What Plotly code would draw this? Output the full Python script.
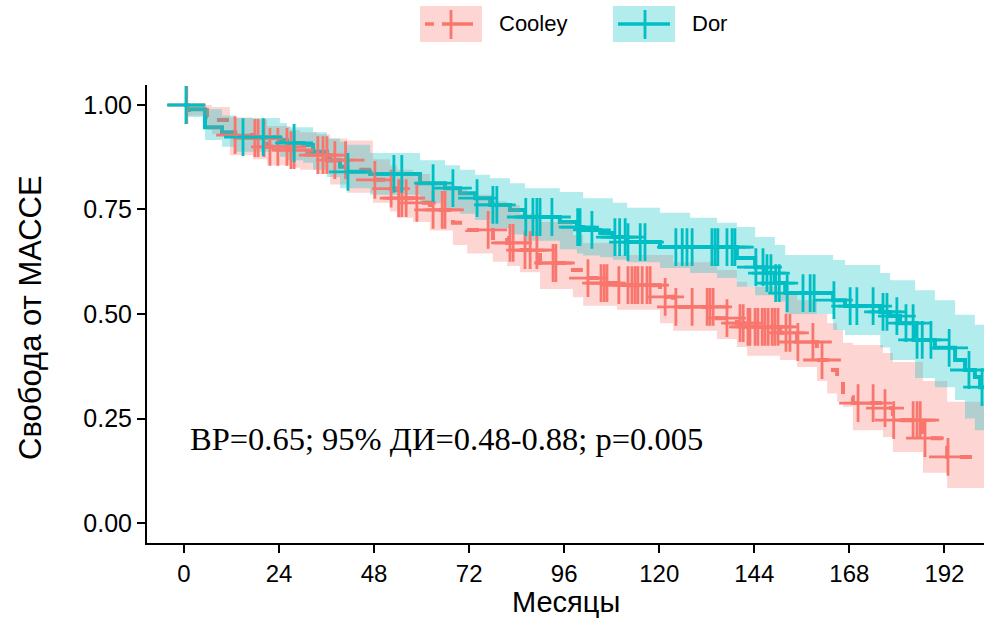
import numpy as np
import plotly.graph_objects as go

# ---------------- data ----------------
group_names = ["Cooley", "Dor"]
line_colors = {"Cooley": "#F8766D", "Dor": "#00BFC4"}
band_colors = {"Cooley": "rgba(248,118,109,0.3)", "Dor": "rgba(0,191,196,0.3)"}

x_tick_vals = [0, 24, 48, 72, 96, 120, 144, 168, 192]
y_tick_vals = [0.0, 0.25, 0.5, 0.75, 1.0]
y_tick_text = ["0.00", "0.25", "0.50", "0.75", "1.00"]
x_title = "Месяцы"
y_title = "Свобода от МАССЕ"

followup_end = 202.0

cooley_time = [0, 0.8, 5.8, 7.1, 11.6, 17.4, 21.0, 26.8, 29.3, 33.6, 36.9, 41.2, 47.7, 52.0,
               53.8, 57.8, 62.1, 67.9, 71.5, 78.0, 81.6, 84.8, 89.9, 98.2, 100.8, 105.1, 109.3,
               120.2, 123.5, 134.6, 139.6, 142.2, 150.5, 154.8, 159.8, 162.4, 164.9, 166.4,
               168.9, 176.5, 179.0, 186.6, 192.7]
cooley_surv = [1.0, 0.988, 0.971, 0.964, 0.928, 0.921, 0.900, 0.892, 0.888, 0.880, 0.868, 0.845,
               0.821, 0.800, 0.777, 0.766, 0.749, 0.718, 0.701, 0.682, 0.670, 0.653, 0.622, 0.605,
               0.586, 0.574, 0.569, 0.541, 0.517, 0.490, 0.478, 0.469, 0.455, 0.433, 0.390, 0.366,
               0.345, 0.301, 0.287, 0.275, 0.246, 0.203, 0.158]
cooley_lower = [1.0, 0.975, 0.94, 0.93, 0.88, 0.87, 0.855, 0.85, 0.845, 0.835, 0.81, 0.79, 0.766,
                0.745, 0.73, 0.72, 0.70, 0.665, 0.645, 0.625, 0.615, 0.60, 0.56, 0.54, 0.52, 0.52,
                0.51, 0.478, 0.46, 0.44, 0.421, 0.40, 0.39, 0.373, 0.34, 0.31, 0.29, 0.278, 0.222,
                0.206, 0.17, 0.12, 0.084]
cooley_upper = [1.0, 1.0, 1.0, 0.995, 0.97, 0.965, 0.95, 0.94, 0.935, 0.93, 0.92, 0.915, 0.87,
                0.855, 0.845, 0.835, 0.81, 0.80, 0.785, 0.77, 0.76, 0.74, 0.72, 0.689, 0.67, 0.67,
                0.641, 0.641, 0.624, 0.605, 0.577, 0.565, 0.553, 0.533, 0.50, 0.478, 0.462, 0.431,
                0.426, 0.407, 0.385, 0.34, 0.29]
cooley_censor = [0.7, 12.9, 17.9, 18.7, 20.2, 21.7, 23.7, 26.0, 27.0, 27.8, 33.8, 35.1, 36.1, 38.1,
                 40.8, 48.2, 52.3, 54.2, 55.0, 56.1, 58.8, 62.9, 65.2, 65.9, 76.8, 82.3, 83.1, 86.1,
                 87.4, 89.1, 93.2, 93.9, 102.0, 105.3, 106.1, 106.8, 109.8, 112.1, 113.1, 113.9,
                 114.6, 115.7, 116.9, 117.7, 121.5, 124.2, 128.3, 132.1, 132.8, 133.6, 137.1, 140.4,
                 141.2, 142.4, 142.9, 144.2, 144.9, 146.0, 146.7, 147.5, 148.5, 149.2, 150.0, 152.0,
                 153.0, 155.0, 158.8, 161.1, 170.2, 174.0, 177.0, 179.2, 184.1, 185.1, 185.9, 187.1,
                 192.9]

dor_time = [0, 0.8, 5.3, 9.6, 12.9, 24.2, 26.0, 30.1, 32.6, 36.1, 39.4, 41.2, 47.0, 59.6, 65.9,
            69.7, 73.5, 77.3, 82.3, 86.1, 94.9, 99.2, 100.8, 105.1, 108.3, 111.9, 120.2, 127.8,
            134.6, 139.6, 144.2, 146.7, 149.2, 151.8, 163.9, 166.9, 175.8, 178.3, 180.8, 184.6,
            189.6, 194.7, 197.2, 199.7, 201.0]
dor_surv = [1.0, 0.99, 0.947, 0.935, 0.923, 0.916, 0.909, 0.904, 0.888, 0.868, 0.852, 0.840, 0.835,
            0.813, 0.801, 0.789, 0.777, 0.761, 0.749, 0.732, 0.720, 0.708, 0.701, 0.694, 0.684,
            0.672, 0.660, 0.660, 0.660, 0.634, 0.612, 0.598, 0.574, 0.550, 0.533, 0.519, 0.505,
            0.495, 0.478, 0.438, 0.419, 0.390, 0.366, 0.349, 0.325]
dor_lower = [1.0, 0.971, 0.916, 0.90, 0.888, 0.876, 0.868, 0.862, 0.845, 0.828, 0.801, 0.801, 0.785,
             0.765, 0.75, 0.74, 0.725, 0.705, 0.69, 0.675, 0.655, 0.645, 0.64, 0.636, 0.63, 0.624,
             0.61, 0.598, 0.586, 0.565, 0.545, 0.545, 0.53, 0.50, 0.462, 0.45, 0.42, 0.39, 0.39,
             0.347, 0.325, 0.294, 0.25, 0.222, 0.222]
dor_upper = [1.0, 1.0, 0.99, 0.975, 0.969, 0.957, 0.947, 0.947, 0.935, 0.92, 0.912, 0.905, 0.885,
             0.868, 0.856, 0.845, 0.833, 0.825, 0.813, 0.801, 0.792, 0.792, 0.777, 0.777, 0.766,
             0.754, 0.742, 0.73, 0.718, 0.708, 0.684, 0.684, 0.665, 0.641, 0.629, 0.617, 0.598,
             0.581, 0.581, 0.557, 0.533, 0.498, 0.498, 0.474, 0.474]
dor_censor = [0.5, 14.9, 20.0, 27.8, 41.4, 53.0, 55.0, 62.9, 67.9, 74.0, 78.0, 79.0, 86.3, 88.1,
              89.1, 89.9, 92.9, 99.4, 100.0, 103.0, 108.8, 110.0, 111.4, 112.1, 115.2, 116.4,
              124.2, 125.8, 127.0, 128.3, 133.3, 134.1, 134.8, 137.1, 138.4, 139.1, 144.4, 146.2,
              147.2, 148.2, 149.4, 150.3, 152.3, 156.3, 158.1, 159.1, 164.1, 168.2, 169.9, 174.0,
              176.5, 177.5, 180.0, 182.3, 184.1, 185.1, 186.4, 188.6, 193.2, 198.2, 201.5]

annotation_text = "ВР=0.65; 95% ДИ=0.48-0.88; p=0.005"

series = {
    "Cooley": dict(t=cooley_time, s=cooley_surv, lo=cooley_lower, hi=cooley_upper,
                   c=cooley_censor, dash="dash"),
    "Dor": dict(t=dor_time, s=dor_surv, lo=dor_lower, hi=dor_upper, c=dor_censor, dash="solid"),
}


# ---------------- helpers ----------------
def step_line(t, s, end):
    return list(t) + [end], list(s) + [s[-1]]


def band_polygon(t, lo, hi, end):
    tt = list(t) + [end]
    xs, ys = [], []
    for i in range(len(t)):
        xs += [tt[i], tt[i + 1]]
        ys += [hi[i], hi[i]]
    for i in reversed(range(len(t))):
        xs += [tt[i + 1], tt[i]]
        ys += [lo[i], lo[i]]
    return xs, ys


def surv_at(t, s, q):
    idx = np.searchsorted(np.array(t), np.array(q), side="right") - 1
    return np.array(s)[idx]


fig = go.Figure()

# lines first
for g in group_names:
    d = series[g]
    x, y = step_line(d["t"], d["s"], followup_end)
    fig.add_trace(go.Scatter(x=x, y=y, mode="lines", line_shape="hv",
                             line=dict(color=line_colors[g], width=4, dash=d["dash"]),
                             hoverinfo="skip", showlegend=False))
# confidence bands over the lines
for g in group_names:
    d = series[g]
    bx, by = band_polygon(d["t"], d["lo"], d["hi"], followup_end)
    fig.add_trace(go.Scatter(x=bx, y=by, mode="lines", fill="toself",
                             fillcolor=band_colors[g], line=dict(width=0),
                             hoverinfo="skip", showlegend=False))
# censor marks
for g in group_names:
    d = series[g]
    cy = surv_at(d["t"], d["s"], d["c"])
    fig.add_trace(go.Scatter(x=d["c"], y=cy, mode="markers",
                             marker=dict(symbol="cross-thin-open", size=27,
                                         color=line_colors[g],
                                         line=dict(color=line_colors[g], width=2.8)),
                             hoverinfo="skip", showlegend=False))

fig.add_annotation(x=1, y=0.2, xref="x", yref="y", text=annotation_text, showarrow=False,
                   xanchor="left", yanchor="middle",
                   font=dict(family="Liberation Serif, Times New Roman, serif", size=32.5,
                             color="black"))

# ---------------- manual legend / titles (pixel placement) ----------------
PL, PR, PT, PB = 147, 984, 85, 543


def fx(p):
    return (p - PL) / (PR - PL)


def fy(p):
    return (PB - p) / (PB - PT)


legend_items = [
    dict(name="Cooley", rect=(420, 482), segs=[(425, 434), (442, 473)], tick=451, text=497),
    dict(name="Dor", rect=(613, 675), segs=[(618, 670)], tick=645, text=690),
]
for it in legend_items:
    g = it["name"]
    fig.add_shape(type="rect", xref="paper", yref="paper", x0=fx(it["rect"][0]),
                  x1=fx(it["rect"][1]), y0=fy(42), y1=fy(6), fillcolor=band_colors[g],
                  line=dict(width=0), layer="above")
    for a, b in it["segs"]:
        fig.add_shape(type="line", xref="paper", yref="paper", x0=fx(a), x1=fx(b), y0=fy(24),
                      y1=fy(24), line=dict(color=line_colors[g], width=3.5), layer="above")
    fig.add_shape(type="line", xref="paper", yref="paper", x0=fx(it["tick"]), x1=fx(it["tick"]),
                  y0=fy(10), y1=fy(39), line=dict(color=line_colors[g], width=2.8), layer="above")
    fig.add_annotation(x=fx(it["text"]), y=fy(24), xref="paper", yref="paper", text=g,
                       showarrow=False, xanchor="left", yanchor="middle",
                       font=dict(size=22, color="black"))

fig.add_annotation(x=0.5, y=fy(619), xref="paper", yref="paper", text=x_title, showarrow=False,
                   xanchor="center", yanchor="bottom", borderpad=0,
                   font=dict(size=29, color="black"))
fig.add_annotation(x=fx(30), y=fy(318), xref="paper", yref="paper", text=y_title,
                   showarrow=False, textangle=-90, xanchor="center", yanchor="middle",
                   font=dict(size=31, color="black"))

fig.update_layout(
    width=985, height=619,
    margin=dict(l=PL, r=985 - PR, t=PT, b=619 - PB),
    plot_bgcolor="white", paper_bgcolor="white", showlegend=False,
    font=dict(family="Liberation Sans, Arial, sans-serif", color="black"),
)
fig.update_xaxes(range=[-9.34, 202.0], tickvals=x_tick_vals, ticks="outside", ticklen=8,
                 tickwidth=2, tickcolor="black", showline=True, linewidth=2, linecolor="black",
                 showgrid=False, zeroline=False, tickfont=dict(size=24))
fig.update_yaxes(range=[-0.0478, 1.0478], tickvals=y_tick_vals, ticktext=y_tick_text,
                 ticks="outside", ticklen=8, tickwidth=2, tickcolor="black", showline=True,
                 linewidth=2, linecolor="black", showgrid=False, zeroline=False,
                 tickfont=dict(size=25))

fig.write_html("out.html")
